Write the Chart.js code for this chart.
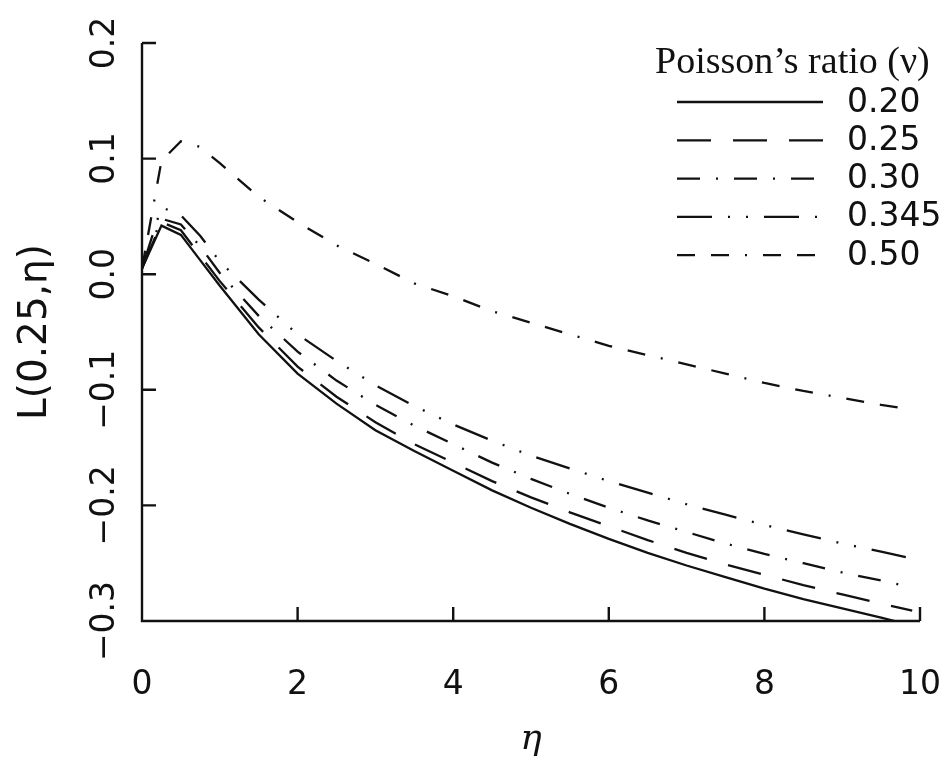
<!DOCTYPE html>
<html>
<head>
<meta charset="utf-8">
<script src="https://cdn.jsdelivr.net/npm/chart.js@4.4.1/dist/chart.umd.min.js"></script>
<style>
  html, body { margin: 0; padding: 0; background: #fff; }
</style>
</head>
<body>
<canvas id="chart" width="947" height="760"></canvas>
<script>
// eta values shared by every curve
const eta = [0, 0.25, 0.5, 0.75, 1, 1.5, 2, 2.5, 3, 3.5, 4, 4.5, 5, 5.5, 6, 6.5, 7, 7.5, 8, 8.5, 9, 9.5, 9.9];

// L(0.25, eta), one list per Poisson's ratio
const nu020 = [0.005, 0.042, 0.034, 0.012, -0.010, -0.052, -0.086, -0.112, -0.135, -0.153, -0.170, -0.187, -0.202, -0.216, -0.229, -0.241, -0.252, -0.262, -0.272, -0.281, -0.289, -0.297, -0.304];
const nu025 = [0.005, 0.045, 0.038, 0.016, -0.006, -0.046, -0.080, -0.106, -0.128, -0.147, -0.163, -0.179, -0.193, -0.206, -0.218, -0.230, -0.241, -0.251, -0.260, -0.269, -0.277, -0.285, -0.291];
const nu030 = [0.005, 0.048, 0.043, 0.024, 0.001, -0.036, -0.067, -0.092, -0.113, -0.131, -0.147, -0.163, -0.177, -0.190, -0.202, -0.213, -0.223, -0.233, -0.242, -0.250, -0.258, -0.265, -0.271];
const nu0345 = [0.005, 0.058, 0.051, 0.033, 0.011, -0.022, -0.052, -0.075, -0.096, -0.114, -0.130, -0.144, -0.157, -0.168, -0.179, -0.189, -0.199, -0.208, -0.217, -0.225, -0.233, -0.240, -0.246];
const nu050 = [0.005, 0.098, 0.115, 0.110, 0.096, 0.067, 0.045, 0.025, 0.009, -0.008, -0.019, -0.032, -0.042, -0.052, -0.062, -0.070, -0.078, -0.086, -0.094, -0.101, -0.107, -0.113, -0.117];

const ratioLabels = ['0.20', '0.25', '0.30', '0.345', '0.50'];

const ink = '#111';
const tickFont = { family: '"DejaVu Sans", sans-serif', size: 33 };

function toPoints(values) {
  return eta.map((x, i) => ({ x: x, y: values[i] }));
}

const dashes = [
  [],
  [34, 22],
  [23, 16, 2, 16],
  [35, 16, 2, 16, 2, 16],
  [18, 16, 18, 16, 2, 16]
];

const series = [nu020, nu025, nu030, nu0345, nu050];

const datasets = series.map((vals, i) => ({
  label: ratioLabels[i],
  data: toPoints(vals),
  borderColor: ink,
  borderWidth: 2.3,
  borderDash: dashes[i],
  borderCapStyle: 'butt',
  pointRadius: 0,
  fill: false,
  tension: 0
}));

// axis lines with tick marks pointing inward
const axisMarks = {
  id: 'axisMarks',
  afterDatasetsDraw(chart) {
    const { ctx, chartArea: a, scales: { x, y } } = chart;
    ctx.save();
    ctx.strokeStyle = ink;
    ctx.lineWidth = 2.4;
    ctx.setLineDash([]);
    ctx.beginPath();
    ctx.moveTo(a.left, a.top);
    ctx.lineTo(a.left, a.bottom);
    ctx.lineTo(a.right, a.bottom);
    x.ticks.forEach(t => {
      const px = x.getPixelForValue(t.value);
      ctx.moveTo(px, a.bottom);
      ctx.lineTo(px, a.bottom - 14);
    });
    y.ticks.forEach(t => {
      const py = y.getPixelForValue(t.value);
      ctx.moveTo(a.left, py);
      ctx.lineTo(a.left + 14, py);
    });
    ctx.stroke();
    ctx.restore();
  }
};

// legend box in the upper right, like the original
const ratioLegend = {
  id: 'ratioLegend',
  afterDraw(chart) {
    const ctx = chart.ctx;
    ctx.save();
    ctx.fillStyle = ink;
    ctx.font = '38px "Liberation Serif", serif';
    ctx.textBaseline = 'alphabetic';
    ctx.fillText('Poisson\u2019s ratio (\u03bd)', 655, 73);
    ctx.font = '33px "DejaVu Sans", sans-serif';
    ctx.textBaseline = 'middle';
    chart.data.datasets.forEach((ds, i) => {
      const y = 102 + i * 38.3;
      ctx.strokeStyle = ds.borderColor;
      ctx.lineWidth = ds.borderWidth;
      ctx.lineCap = 'butt';
      ctx.setLineDash(ds.borderDash);
      ctx.beginPath();
      ctx.moveTo(677, y);
      ctx.lineTo(823, y);
      ctx.stroke();
      ctx.fillText(ds.label, 847, y + 1);
    });
    ctx.restore();
  }
};

const ctx = document.getElementById('chart').getContext('2d');

new Chart(ctx, {
  type: 'line',
  data: { datasets: datasets },
  options: {
    responsive: false,
    animation: false,
    layout: { padding: { top: 43, right: 27, left: 0, bottom: 0 } },
    plugins: {
      legend: { display: false },
      tooltip: { enabled: false }
    },
    scales: {
      x: {
        type: 'linear',
        min: 0,
        max: 10,
        grid: { display: false, drawTicks: true, tickLength: 42 },
        border: { display: false },
        ticks: {
          stepSize: 2,
          padding: 3,
          maxRotation: 0,
          color: ink,
          font: tickFont
        },
        title: {
          display: true,
          text: '\u03b7',
          color: ink,
          font: { family: '"DejaVu Serif", serif', style: 'italic', size: 36 },
          padding: { top: 0, bottom: -1 }
        },
        afterFit(scale) { scale.height = 139; }
      },
      y: {
        type: 'linear',
        min: -0.3,
        max: 0.2,
        grid: { display: false, drawTicks: false },
        border: { display: false },
        ticks: {
          stepSize: 0.1,
          minRotation: 90,
          maxRotation: 90,
          crossAlign: 'center',
          padding: -3,
          color: ink,
          font: tickFont,
          callback: v => (Math.abs(v) < 1e-9 ? 0 : v).toFixed(1).replace('-', '\u2212')
        },
        title: {
          display: true,
          text: 'L(0.25,\u03b7)',
          color: ink,
          font: { family: '"DejaVu Sans", sans-serif', size: 39 },
          padding: { top: 12, bottom: 0 }
        },
        afterFit(scale) { scale.width = 142; }
      }
    }
  },
  plugins: [axisMarks, ratioLegend]
});
</script>
</body>
</html>
